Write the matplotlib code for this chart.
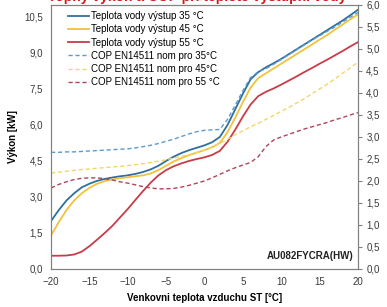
import matplotlib.pyplot as plt
from matplotlib.ticker import FuncFormatter, MultipleLocator

plt.rcParams['font.family'] = ['Liberation Sans', 'DejaVu Sans']

temp = list(range(-20, 21))

# vykon [kW]
out35 = [2.0, 2.45, 2.85, 3.15, 3.4, 3.55, 3.67, 3.75, 3.81, 3.86, 3.9, 3.96, 4.04, 4.15, 4.3, 4.5, 4.68, 4.83, 4.95, 5.05,
         5.15, 5.28, 5.5, 6.0, 6.65, 7.3, 7.9, 8.2, 8.4, 8.57, 8.75, 8.95, 9.15, 9.35, 9.55, 9.75, 9.95, 10.15, 10.35, 10.57, 10.8]
out45 = [1.4, 1.95, 2.45, 2.85, 3.15, 3.38, 3.55, 3.66, 3.73, 3.78, 3.82, 3.86, 3.9, 3.98, 4.12, 4.3, 4.48, 4.62, 4.74, 4.85,
         4.95, 5.07, 5.25, 5.7, 6.3, 6.95, 7.55, 7.95, 8.15, 8.35, 8.55, 8.75, 8.95, 9.15, 9.35, 9.55, 9.75, 9.97, 10.18, 10.4, 10.6]
out55 = [0.55, 0.55, 0.56, 0.6, 0.72, 0.95, 1.22, 1.5, 1.8, 2.15, 2.5, 2.88, 3.25, 3.6, 3.9, 4.12, 4.28, 4.4, 4.5, 4.58,
         4.65, 4.75, 4.92, 5.3, 5.8, 6.35, 6.85, 7.2, 7.38, 7.52, 7.68, 7.85, 8.02, 8.2, 8.37, 8.55, 8.72, 8.9, 9.08, 9.27, 9.45]

# COP
cop35 = [2.65, 2.65, 2.66, 2.66, 2.67, 2.68, 2.69, 2.7, 2.71, 2.72, 2.73, 2.75, 2.78, 2.81, 2.85, 2.9, 2.95, 3.01, 3.07, 3.12,
         3.15, 3.16, 3.17, 3.4, 3.72, 4.05, 4.35, 4.48, 4.55, 4.65, 4.76, 4.87, 4.98, 5.09, 5.2, 5.3, 5.4, 5.5, 5.61, 5.72, 5.83]
cop45 = [2.18, 2.2, 2.22, 2.24, 2.26, 2.27, 2.29, 2.3, 2.32, 2.33, 2.35, 2.37, 2.39, 2.42, 2.45, 2.48, 2.52, 2.56, 2.6, 2.65,
         2.7, 2.77, 2.85, 2.95, 3.05, 3.14, 3.23, 3.31, 3.4, 3.49, 3.58, 3.67, 3.77, 3.87, 3.98, 4.09, 4.2, 4.32, 4.45, 4.57, 4.7]
cop55 = [1.84, 1.92, 1.98, 2.03, 2.06, 2.07, 2.07, 2.05, 2.02, 1.98, 1.95, 1.91, 1.87, 1.84, 1.82, 1.82, 1.83, 1.86, 1.9, 1.95,
         2.0, 2.07, 2.15, 2.23, 2.3, 2.36, 2.42, 2.55, 2.78, 2.93, 3.0, 3.06, 3.12, 3.18, 3.23, 3.28, 3.33, 3.39, 3.44, 3.5, 3.55]

labels_out = ["Teplota vody výstup 35 °C", "Teplota vody výstup 45 °C", "Teplota vody výstup 55 °C"]
labels_cop = ["COP EN14511 nom pro 35°C", "COP EN14511 nom pro 45°C", "COP EN14511 nom pro 55 °C"]

c_solid = ["#2f6f9f", "#f2c23c", "#c83c48"]
c_dash = ["#5b9bd0", "#f3d56a", "#b04458"]

fig = plt.figure(figsize=(3.87, 3.07), dpi=100)
ax = fig.add_axes([0.132, 0.124, 0.793, 0.86])
ax2 = ax.twinx()

handles = []
for ys, c, lab in zip([out35, out45, out55], c_solid, labels_out):
    h, = ax.plot(temp, ys, color=c, lw=1.3, label=lab)
    handles.append(h)
for ys, c, lab in zip([cop35, cop45, cop55], c_dash, labels_cop):
    h, = ax2.plot(temp, ys, color=c, lw=1.0, ls=(0, (3, 2)), label=lab)
    handles.append(h)

ax.set_xlim(-20, 20)
ax.set_ylim(0, 11)
ax2.set_ylim(0, 6.0)
ax.xaxis.set_major_locator(MultipleLocator(5))
ax.yaxis.set_major_locator(MultipleLocator(1.5))
ax2.yaxis.set_major_locator(MultipleLocator(0.5))

comma = FuncFormatter(lambda v, p: f"{v:.1f}".replace(".", ","))
ax.yaxis.set_major_formatter(comma)
ax2.yaxis.set_major_formatter(comma)

for a in (ax, ax2):
    for s in a.spines.values():
        s.set_color("#808080")
        s.set_linewidth(0.8)
ax.tick_params(axis="both", length=0, labelsize=7, colors="#3a3a3a", pad=6)
ax2.tick_params(axis="y", length=3, width=0.8, color="#808080", labelsize=7, labelcolor="#3a3a3a", pad=3)

ax.set_xlabel("Venkovni teplota vzduchu ST [°C]", fontsize=7, fontweight="bold", labelpad=4)
ax.set_ylabel("Výkon [kW]", fontsize=7, fontweight="bold", labelpad=4)

ax.text(0.985, 0.03, "AU082FYCRA(HW)", transform=ax.transAxes, ha="right", va="bottom",
        fontsize=7, fontweight="bold", color="#222222")

ax.legend(handles=handles, loc="upper left", bbox_to_anchor=(0.035, 1.0), frameon=False,
          fontsize=7, handlelength=2.1, handletextpad=0.2, labelspacing=0.33, borderaxespad=0.25)

fig.text(0.51, 0.996, "Topný výkon a COP při teplotě výstupní vody",
         ha="center", va="baseline", fontsize=10, fontweight="bold", color="#d01818")

fig.savefig("out.png", dpi=100)
